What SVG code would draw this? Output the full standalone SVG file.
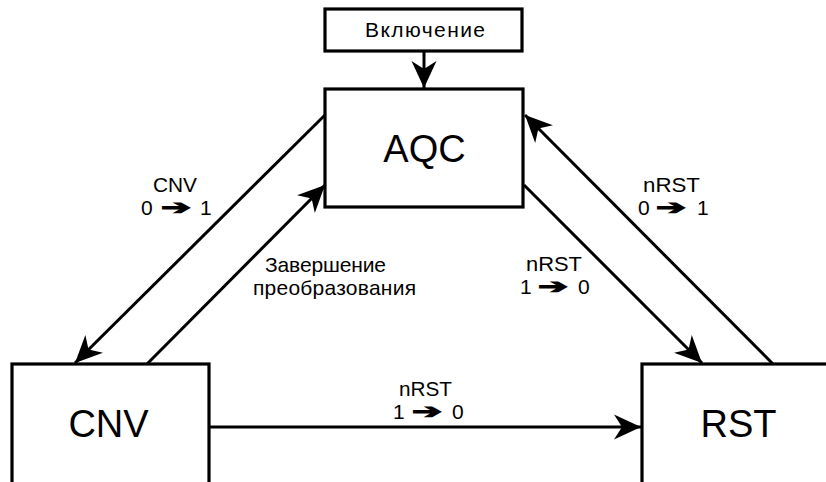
<svg xmlns="http://www.w3.org/2000/svg" width="826" height="482" viewBox="0 0 826 482">
<style>
.box{fill:#fff;stroke:#000;stroke-width:3.2}
.big{font-family:"Liberation Sans",Arial,sans-serif;font-size:38px;text-anchor:middle;fill:#000}
.lbl{font-family:"Liberation Sans",Arial,sans-serif;font-size:21px;fill:#000}
.arr{font-family:"DejaVu Sans",sans-serif;font-size:20px;font-weight:bold;stroke:#000;stroke-width:1.2}
.conn{stroke:#000;stroke-width:3;fill:none;marker-end:url(#ah)}
</style>
<defs>
<marker id="ah" markerUnits="userSpaceOnUse" viewBox="-29 -14 30 28" refX="0" refY="0" markerWidth="30" markerHeight="28" orient="auto">
<path d="M0,0 L-27,-12.5 L-19,0 L-27,12.5 Z" fill="#000"/>
</marker>
</defs>
<rect width="826" height="482" fill="#fff"/>
<g id="connectors">
<line class="conn" x1="424" y1="51" x2="424" y2="88"/>
<line class="conn" x1="325" y1="115" x2="75" y2="363"/>
<line class="conn" x1="147" y1="364" x2="325" y2="185"/>
<line class="conn" x1="524" y1="185" x2="702" y2="363"/>
<line class="conn" x1="773" y1="364" x2="525" y2="115"/>
<line class="conn" x1="209" y1="427" x2="641" y2="427"/>
</g>
<g id="node-vkl">
<rect class="box" x="325" y="9" width="197" height="42"/>
<text class="lbl" x="365" y="37" font-size="19" textLength="120" lengthAdjust="spacing">Включение</text>
</g>
<g id="node-aqc">
<rect class="box" x="325" y="89" width="198" height="118"/>
<text class="big" x="424.5" y="162">AQC</text>
</g>
<g id="node-cnv">
<rect class="box" x="12" y="364" width="197" height="140"/>
<text class="big" x="108.5" y="437">CNV</text>
</g>
<g id="node-rst">
<rect class="box" x="642" y="364" width="200" height="140"/>
<text class="big" x="738.5" y="437">RST</text>
</g>
<g id="labels">
<text class="lbl"><tspan x="153" y="192" textLength="44" lengthAdjust="spacingAndGlyphs">CNV</tspan><tspan x="141" y="215">0</tspan><tspan class="arr" x="161" y="214" textLength="30" lengthAdjust="spacingAndGlyphs">➔</tspan><tspan x="200" y="215">1</tspan></text>
<text class="lbl"><tspan x="265" y="272" textLength="121" lengthAdjust="spacing">Завершение</tspan><tspan x="253" y="295" textLength="163" lengthAdjust="spacing">преобразования</tspan></text>
<text class="lbl"><tspan x="643" y="192" textLength="57" lengthAdjust="spacingAndGlyphs">nRST</tspan><tspan x="638" y="215">0</tspan><tspan class="arr" x="656" y="214" textLength="30" lengthAdjust="spacingAndGlyphs">➔</tspan><tspan x="697" y="215">1</tspan></text>
<text class="lbl"><tspan x="526" y="271" textLength="56" lengthAdjust="spacingAndGlyphs">nRST</tspan><tspan x="520" y="294">1</tspan><tspan class="arr" x="538" y="293" textLength="30" lengthAdjust="spacingAndGlyphs">➔</tspan><tspan x="578" y="294">0</tspan></text>
<text class="lbl"><tspan x="399" y="396" textLength="53" lengthAdjust="spacingAndGlyphs">nRST</tspan><tspan x="393" y="419">1</tspan><tspan class="arr" x="412" y="418" textLength="30" lengthAdjust="spacingAndGlyphs">➔</tspan><tspan x="452" y="419">0</tspan></text>
</g>
</svg>
